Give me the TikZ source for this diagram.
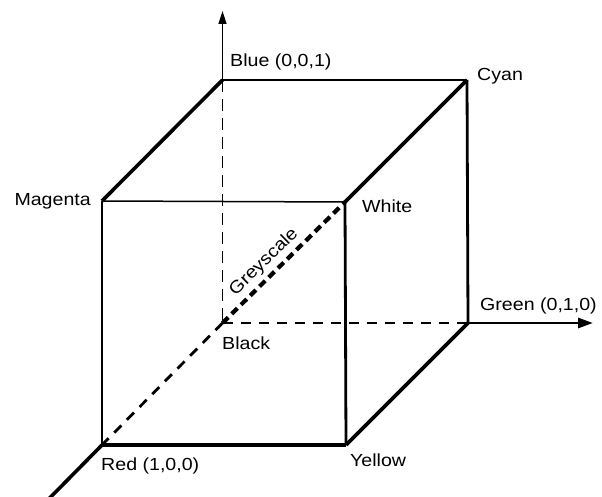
\documentclass[tikz,border=0pt]{standalone}
\usepackage{fontspec}
\setmainfont{Liberation Sans}[FakeStretch=1.12]
\usetikzlibrary{arrows.meta}
\begin{document}
\begin{tikzpicture}[x=1pt,y=-1pt,
  thinedge/.style={line width=1.5pt},
  medge/.style={line width=2.8pt},
  thickedge/.style={line width=3.6pt},
  thindash/.style={line width=1.5pt,dash pattern=on 12pt off 7pt},
  mdash/.style={line width=2.8pt,dash pattern=on 10pt off 8pt},
  greydash/.style={line width=4.2pt,dash pattern=on 8pt off 5pt},
  lbl/.style={inner sep=0pt,font=\fontsize{17.5}{20}\selectfont}]
\useasboundingbox (0,0) rectangle (602,497);
\clip (0,0) rectangle (602,497);
% corners
\coordinate (blue) at (222.5,80);
\coordinate (cyan) at (467,80);
\coordinate (magenta) at (102,201);
\coordinate (white) at (345,202);
\coordinate (black) at (222.5,323);
\coordinate (green) at (468,323);
\coordinate (red) at (102,445);
\coordinate (yellow) at (346,445);
\coordinate (btop) at (222.5,11);
\coordinate (gend) at (593,323);
\coordinate (rend) at (30,518);
% hidden edges
\draw[thindash] (blue) -- (black);
\draw[mdash] (black) -- (green);
\draw[mdash] (black) -- (red);
\draw[greydash] (black) -- (white);
% visible edges
\draw[thinedge] (blue) -- (cyan);
\draw[thinedge] (magenta) -- (white);
\draw[thinedge] (magenta) -- (red);
\draw[thickedge] (blue) -- (magenta);
\draw[thickedge] (cyan) -- (white);
\draw[medge] (white) -- (yellow);
\draw[medge] (cyan) -- (green);
\draw[thickedge] (red) -- (yellow);
\draw[thickedge] (yellow) -- (green);
% axes
\draw[thinedge,-{Triangle[length=13pt,width=8pt]}] (blue) -- (btop);
\draw[medge,-{Triangle[length=15pt,width=10pt]}] (green) -- (gend);
\draw[thickedge] (red) -- (rend);
% labels
\node[lbl,anchor=base west] (lblue) at (230,66.7) {Blue (0,0,1)};
\node[lbl,anchor=base west] (lcyan) at (477,81) {Cyan};
\node[lbl,anchor=base east] (lmag) at (91,205) {Magenta};
\node[lbl,anchor=base west] (lwhite) at (362,212.5) {White};
\node[lbl,anchor=base west] (lblack) at (222,349.5) {Black};
\node[lbl,anchor=base west] (lgreen) at (480,310.7) {Green (0,1,0)};
\node[lbl,anchor=base west] (lred) at (101,470) {Red (1,0,0)};
\node[lbl,anchor=base west] (lyellow) at (350,466.7) {Yellow};
\node[lbl,rotate=44.3] (lgrey) at (264,262) {Greyscale};
\end{tikzpicture}
\end{document}
